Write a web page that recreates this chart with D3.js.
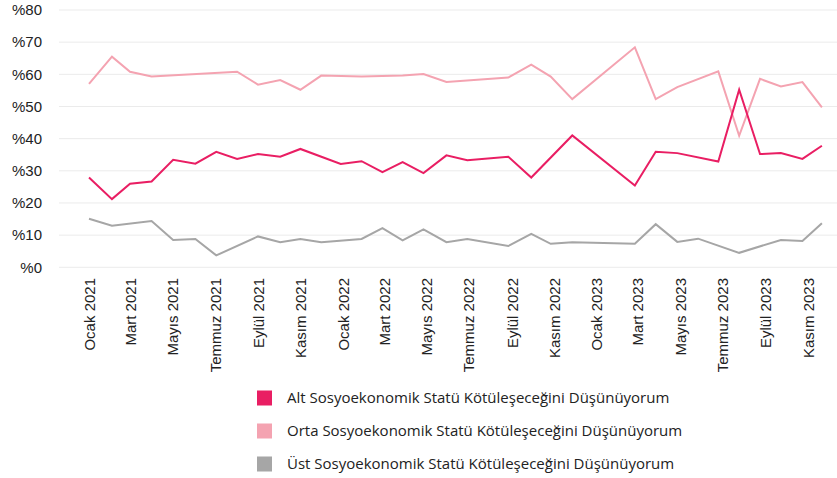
<!DOCTYPE html>
<html>
<head>
<meta charset="utf-8">
<script src="https://cdn.jsdelivr.net/npm/d3@7"></script>
<style>
  body { margin: 0; background: #fff; }
  svg { display: block; font-family: "Open Sans", sans-serif; }
</style>
</head>
<body>
<svg id="chart" width="837" height="478"></svg>
<script>
// survey dates and the three series, null = no survey value
const dates = [
  '2021-01-01', '2021-02-03', '2021-03-01', '2021-04-01', '2021-05-02', '2021-06-03',
  '2021-07-03', '2021-08-02', '2021-09-01', '2021-10-03', '2021-11-01', '2021-12-01',
  '2021-12-29', '2022-01-28', '2022-02-27', '2022-03-28', '2022-04-27', '2022-05-30',
  '2022-06-29', '2022-08-27', '2022-09-29', '2022-10-27', '2022-11-27', '2023-02-25',
  '2023-03-27', '2023-04-27', '2023-05-27', '2023-06-25', '2023-07-25', '2023-08-24',
  '2023-09-23', '2023-10-24', '2023-11-21',
];

const alt = [
  27.9, 21.2, 26.0, 26.7, 33.4, 32.2, 35.9, 33.7, 35.2, 34.4, 36.8, null,
  32.1, 33.0, 29.6, 32.7, 29.3, 34.8, 33.3, 34.4, 27.9, null, 41.0, 25.4,
  35.9, 35.5, null, 32.9, 55.2, 35.2, 35.5, 33.7, 37.8,
];

const orta = [
  57.0, 65.5, 60.8, 59.3, null, null, null, 60.8, 56.8, 58.2, 55.2, 59.6,
  null, 59.3, null, 59.6, 60.1, 57.6, null, 59.0, 63.0, 59.3, 52.3, 68.4,
  52.3, 56.0, null, 60.9, 40.9, 58.6, 56.2, 57.6, 49.7,
];

const ust = [
  15.1, 12.9, null, 14.4, 8.5, 8.8, 3.7, null, 9.6, 7.8, 8.8, 7.8,
  null, 8.8, 12.2, 8.4, 11.8, 7.8, 8.8, 6.6, 10.4, 7.3, 7.8, 7.3,
  13.4, 7.9, 8.9, null, 4.5, null, 8.5, 8.2, 13.7,
];

const seriesNames = [
  'Alt Sosyoekonomik Statü Kötüleşeceğini Düşünüyorum',
  'Orta Sosyoekonomik Statü Kötüleşeceğini Düşünüyorum',
  'Üst Sosyoekonomik Statü Kötüleşeceğini Düşünüyorum',
];
const seriesColors = ['#e91e63', '#f4a3b1', '#a6a6a6'];

const monthNames = [
  'Ocak', 'Şubat', 'Mart', 'Nisan', 'Mayıs', 'Haziran',
  'Temmuz', 'Ağustos', 'Eylül', 'Ekim', 'Kasım', 'Aralık',
];
const tickMonths = [
  '2021-01-01', '2021-03-01', '2021-05-01', '2021-07-01', '2021-09-01', '2021-11-01',
  '2022-01-01', '2022-03-01', '2022-05-01', '2022-07-01', '2022-09-01', '2022-11-01',
  '2023-01-01', '2023-03-01', '2023-05-01', '2023-07-01', '2023-09-01', '2023-11-01',
];
const yTicks = [0, 10, 20, 30, 40, 50, 60, 70, 80];

const parseDate = d3.timeParse('%Y-%m-%d');

const series = [alt, orta, ust].map((values, i) => ({
  name: seriesNames[i],
  color: seriesColors[i],
  values: values
    .map((v, j) => ({ date: parseDate(dates[j]), value: v }))
    .filter(d => d.value !== null),
}));

const svg = d3.select('#chart');

const xScale = d3
  .scaleTime()
  .domain([parseDate(tickMonths[0]), parseDate(tickMonths[tickMonths.length - 1])])
  .range([89, 808]);

const yScale = d3
  .scaleLinear()
  .domain([0, 80])
  .range([267.3, 10]);

// horizontal grid
svg
  .append('g')
  .selectAll('line')
  .data(yTicks)
  .enter()
  .append('line')
  .attr('x1', 59)
  .attr('x2', 837)
  .attr('y1', d => yScale(d))
  .attr('y2', d => yScale(d))
  .style('stroke', '#ebebeb')
  .style('stroke-width', 1);

const yAxis = svg
  .append('g')
  .attr('transform', 'translate(42, 0)')
  .call(d3.axisLeft(yScale).tickValues(yTicks).tickSize(0).tickPadding(0).tickFormat(d => '%' + d));
yAxis.select('.domain').remove();
yAxis
  .selectAll('text')
  .style('font-size', '15px')
  .style('fill', '#222');

const xAxis = svg
  .append('g')
  .attr('transform', 'translate(0, 267)')
  .call(
    d3
      .axisBottom(xScale)
      .tickValues(tickMonths.map(parseDate))
      .tickSize(0)
      .tickFormat(d => `${monthNames[d.getMonth()]} ${d.getFullYear()}`)
  );
xAxis.select('.domain').remove();
xAxis
  .selectAll('text')
  .attr('transform', 'rotate(-90)')
  .attr('x', -11)
  .attr('y', 0)
  .attr('dy', '0.35em')
  .style('text-anchor', 'end')
  .style('font-size', '15px')
  .style('fill', '#222');

const line = d3
  .line()
  .x(d => xScale(d.date))
  .y(d => yScale(d.value));

// draw the light series first so the crossings look like the original
svg
  .selectAll('.line')
  .data([series[1], series[2], series[0]])
  .enter()
  .append('path')
  .attr('class', 'line')
  .attr('d', d => line(d.values))
  .style('stroke', d => d.color)
  .style('stroke-width', 2)
  .style('stroke-linejoin', 'miter')
  .style('fill', 'none');

const legend = svg
  .append('g')
  .selectAll('g')
  .data(series)
  .enter()
  .append('g')
  .attr('transform', (d, i) => `translate(257, ${398 + i * 33})`);

legend
  .append('rect')
  .attr('x', 0)
  .attr('y', -7.5)
  .attr('width', 15)
  .attr('height', 15)
  .style('fill', d => d.color);

legend
  .append('text')
  .attr('x', 30)
  .attr('dy', '0.35em')
  .style('font-size', '15px')
  .style('fill', '#222')
  .text(d => d.name);
</script>
</body>
</html>
